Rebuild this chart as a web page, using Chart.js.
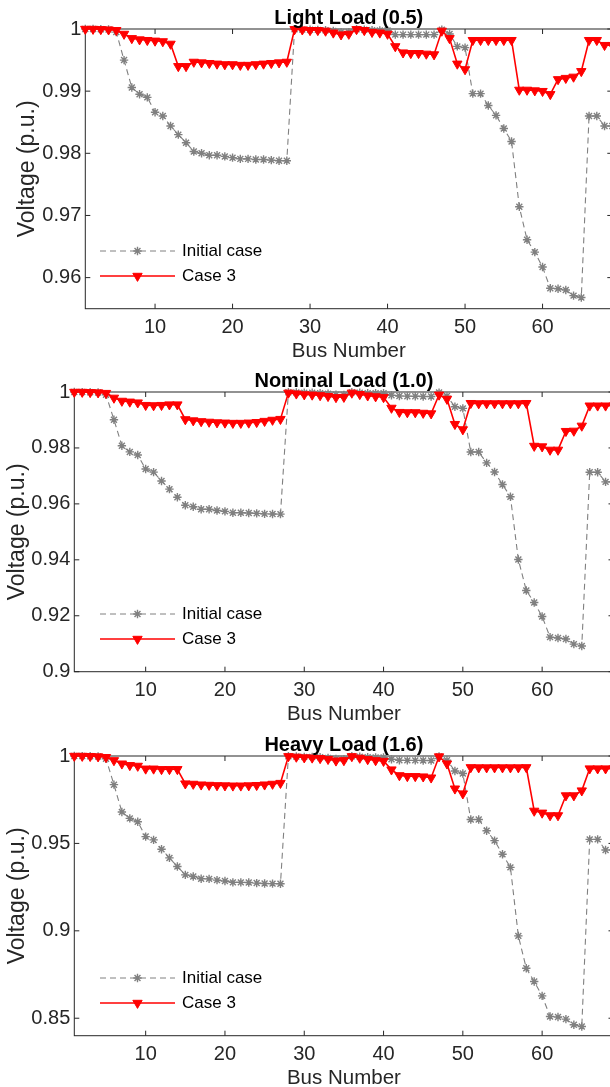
<!DOCTYPE html>
<html>
<head>
<meta charset="utf-8">
<script src="https://cdn.jsdelivr.net/npm/chart.js@4/dist/chart.umd.min.js"></script>
<style>
html, body { margin:0; padding:0; background:#fff; overflow:hidden; width:610px; height:1087px; }
.panel { position:absolute; left:0; width:640px; height:365px; }
</style>
</head>
<body>
<div class="panel" style="top:0px"><canvas id="c1" width="640" height="365"></canvas></div>
<div class="panel" style="top:363px"><canvas id="c2" width="640" height="365"></canvas></div>
<div class="panel" style="top:727px"><canvas id="c3" width="640" height="365"></canvas></div>
<script>
// ---------- data ----------
const busNumbers = [1,2,3,4,5,6,7,8,9,10,11,12,13,14,15,16,17,18,19,20,21,22,23,24,25,26,27,28,29,30,31,32,33,34,35,36,37,38,39,40,41,42,43,44,45,46,47,48,49,50,51,52,53,54,55,56,57,58,59,60,61,62,63,64,65,66,67,68,69];

const lightInitial = [1.0000,1.0000,0.99997,0.99992,0.9995,0.9950,0.9906,0.9895,0.9890,0.9866,0.9860,0.9844,0.9830,0.9817,0.9803,0.9800,0.9797,0.9797,0.9795,0.9793,0.9791,0.9791,0.9790,0.9790,0.9789,0.9788,0.9788,
  0.99997,0.9999,0.99987,0.99986,0.99981,0.99968,0.9995,0.99948,0.99996,0.99988,0.9998,0.99978,0.99978,
  0.9991,0.9991,0.9991,0.9991,0.9991,0.9991,0.9999,0.9992,0.9972,0.9970,
  0.9896,0.9896,0.9877,0.9861,0.9840,0.9819,0.9714,0.9661,0.9641,0.9617,0.9583,0.9582,0.9580,0.9571,0.9568,0.9860,0.9860,0.9844,0.9844];
const lightCase3 = [1.0000,1.0000,0.99995,0.9999,0.9998,0.9992,0.9985,0.9983,0.9982,0.9981,0.9980,0.9976,0.9940,0.9940,0.9947,0.9946,0.9945,0.9944,0.9943,0.9943,0.9942,0.9942,0.9943,0.9944,0.9945,0.9946,0.9947,
  0.99995,0.9999,0.9998,0.9998,0.9997,0.9994,0.9991,0.9992,0.99995,0.9998,0.9995,0.9994,0.9992,
  0.9972,0.9962,0.9961,0.9961,0.9960,0.9959,0.9997,0.9985,0.9944,0.9935,
  0.9982,0.9982,0.9982,0.9982,0.9982,0.9982,0.9902,0.9902,0.9901,0.9900,0.9895,0.9919,0.9921,0.9923,0.9932,0.9982,0.9982,0.9974,0.9974];

const nominalInitial = [1.0000,0.99997,0.99993,0.99984,0.99902,0.99009,0.98079,0.97858,0.97745,0.97245,0.97135,0.96819,0.96526,0.96237,0.95950,0.95897,0.95809,0.95808,0.95762,0.95732,0.95684,0.95683,0.95676,0.95660,0.95643,0.95636,0.95634,
  0.99993,0.99985,0.99973,0.99971,0.99961,0.99935,0.99901,0.99895,0.99992,0.99975,0.99959,0.99954,0.99954,
  0.99884,0.99855,0.99851,0.99850,0.99841,0.99840,0.99979,0.99854,0.99470,0.99415,
  0.97854,0.97853,0.97466,0.97141,0.96693,0.96256,0.94010,0.92904,0.92476,0.91974,0.91236,0.91207,0.91169,0.90985,0.90919,0.97129,0.97129,0.96786,0.96786];
const nominalCase3 = [1.0000,1.0000,0.9999,0.9998,0.9996,0.9979,0.9968,0.9965,0.9962,0.9953,0.9952,0.9953,0.9955,0.9955,0.9902,0.9898,0.9895,0.9893,0.9891,0.9890,0.9889,0.9889,0.9890,0.9892,0.9896,0.9900,0.9903,
  0.9997,0.9994,0.9991,0.9990,0.9988,0.9985,0.9981,0.9982,0.9997,0.9992,0.9987,0.9984,0.9981,
  0.9943,0.9928,0.9927,0.9927,0.9925,0.9923,0.9990,0.9975,0.9885,0.9866,
  0.9960,0.9959,0.9959,0.9959,0.9959,0.9959,0.9959,0.9960,0.9807,0.9805,0.9793,0.9793,0.9860,0.9861,0.9879,0.9951,0.9951,0.9951,0.9951];

const heavyInitial = [1.0000,0.99995,0.9999,0.99975,0.9984,0.9836,0.9680,0.9643,0.9624,0.9539,0.9520,0.9467,0.9417,0.9368,0.9320,0.9311,0.9298,0.9297,0.9290,0.9285,0.9277,0.9277,0.9276,0.9273,0.9271,0.9270,0.9269,
  0.9999,0.9997,0.9995,0.9995,0.9993,0.9989,0.9983,0.9982,0.9999,0.9996,0.9993,0.9992,0.9992,
  0.9981,0.9976,0.9975,0.9975,0.9974,0.9974,0.9997,0.9976,0.9914,0.9900,
  0.9637,0.9637,0.9572,0.9516,0.9438,0.9363,0.8971,0.8786,0.8710,0.8628,0.8510,0.8507,0.8495,0.8463,0.8453,0.9523,0.9523,0.9462,0.9462];
const heavyCase3 = [1.0000,1.0000,0.9999,0.9997,0.9993,0.9975,0.9956,0.9947,0.9943,0.9927,0.9927,0.9924,0.9924,0.9924,0.9842,0.9840,0.9836,0.9834,0.9832,0.9831,0.9830,0.9830,0.9831,0.9833,0.9836,0.9840,0.9845,
  0.9998,0.9995,0.9991,0.9990,0.9987,0.9982,0.9973,0.9975,0.9998,0.9989,0.9981,0.9975,0.9971,
  0.9922,0.9889,0.9884,0.9884,0.9882,0.9876,0.9997,0.9956,0.9813,0.9785,
  0.9935,0.9934,0.9934,0.9934,0.9934,0.9934,0.9934,0.9935,0.9686,0.9675,0.9660,0.9660,0.9774,0.9774,0.9802,0.9928,0.9928,0.9928,0.9928];

const xTickValues = [10,20,30,40,50,60];
const xTickLabels = ['10','20','30','40','50','60'];
const lightYTicks = [0.96,0.97,0.98,0.99,1];
const lightYLabels = ['0.96','0.97','0.98','0.99','1'];
const nominalYTicks = [0.9,0.92,0.94,0.96,0.98,1];
const nominalYLabels = ['0.9','0.92','0.94','0.96','0.98','1'];
const heavyYTicks = [0.85,0.9,0.95,1];
const heavyYLabels = ['0.85','0.9','0.95','1'];

const panelTitles = ['Light Load (0.5)','Nominal Load (1.0)','Heavy Load (1.6)'];
const seriesNames = ['Initial case','Case 3'];
const xAxisTitle = 'Bus Number';
const yAxisTitle = 'Voltage (p.u.)';

// ---------- rendering ----------
Chart.defaults.font.family = '"Liberation Sans", Arial, Helvetica, sans-serif';
const AXIS = '#262626';
const GRAY = '#808080';
const RED = '#ff0000';
const CANVAS_W = 640, CANVAS_H = 365, PLOT_TOP = 29, PLOT_BOTTOM = 308.7;
const TRI_R = 5.4, STAR_R = 4.2;

const decor = {
  id: 'decor',
  beforeDatasetsDraw(chart) {
    const {ctx, chartArea: ca, scales: {x, y}} = chart;
    ctx.save();
    ctx.strokeStyle = AXIS; ctx.lineWidth = 1;
    ctx.beginPath();
    x.ticks.forEach(t => {
      const px = x.getPixelForValue(t.value);
      ctx.moveTo(px, ca.bottom); ctx.lineTo(px, ca.bottom - 5);
      ctx.moveTo(px, ca.top); ctx.lineTo(px, ca.top + 5);
    });
    y.ticks.forEach(t => {
      const py = y.getPixelForValue(t.value);
      ctx.moveTo(ca.left, py); ctx.lineTo(ca.left + 5, py);
      ctx.moveTo(ca.right, py); ctx.lineTo(ca.right - 5, py);
    });
    ctx.stroke();
    ctx.strokeRect(ca.left, ca.top, ca.right - ca.left, ca.bottom - ca.top);
    ctx.restore();
  },
  afterDraw(chart, args, opts) {
    const {ctx, chartArea: ca} = chart;
    ctx.save();
    // title
    ctx.fillStyle = '#000';
    ctx.font = 'bold 20px "Liberation Sans", Arial, sans-serif';
    ctx.textAlign = 'center'; ctx.textBaseline = 'middle';
    ctx.fillText(opts.title, (ca.left + ca.right) / 2, ca.top - 10.5);
    // legend
    const x0 = 100, x1 = 175, xm = 137.5, tx = 182;
    const ys = opts.legendY;
    ctx.font = '17px "Liberation Sans", Arial, sans-serif';
    ctx.textAlign = 'left';
    // initial case
    ctx.strokeStyle = GRAY; ctx.lineWidth = 1; ctx.setLineDash([6,4]);
    ctx.beginPath(); ctx.moveTo(x0, ys[0]); ctx.lineTo(x1, ys[0]); ctx.stroke();
    ctx.setLineDash([]);
    ctx.lineWidth = 1.4; ctx.fillStyle = GRAY;
    Chart.helpers.drawPoint(ctx, {pointStyle:'star', radius:STAR_R, rotation:0, borderWidth:1.4}, xm, ys[0]);
    ctx.fillStyle = '#000';
    ctx.fillText(seriesNames[0], tx, ys[0]);
    // case 3
    ctx.strokeStyle = RED; ctx.lineWidth = 1.5;
    ctx.beginPath(); ctx.moveTo(x0, ys[1]); ctx.lineTo(x1, ys[1]); ctx.stroke();
    ctx.fillStyle = RED; ctx.lineWidth = 1;
    Chart.helpers.drawPoint(ctx, {pointStyle:'triangle', radius:TRI_R, rotation:180, borderWidth:1}, xm, ys[1]);
    ctx.fillStyle = '#000';
    ctx.fillText(seriesNames[1], tx, ys[1]);
    ctx.restore();
  }
};

function toXY(vals) { return busNumbers.map((b, i) => ({x: b, y: vals[i]})); }

function makePanel(id, p) {
  return new Chart(document.getElementById(id), {
    type: 'line',
    data: {
      datasets: [
        { label: seriesNames[1], data: toXY(p.case3), borderColor: RED, backgroundColor: RED,
          borderWidth: 1.6, pointStyle: 'triangle', rotation: 180, pointRadius: TRI_R,
          pointBorderWidth: 1, pointBackgroundColor: RED, pointBorderColor: RED,
          order: 1, clip: false, tension: 0 },
        { label: seriesNames[0], data: toXY(p.initial), borderColor: GRAY, backgroundColor: GRAY,
          borderWidth: 1.1, borderDash: [6,4], pointStyle: 'star', pointRadius: STAR_R,
          pointBorderWidth: 1.4, pointBackgroundColor: GRAY, pointBorderColor: GRAY,
          order: 2, clip: false, tension: 0 }
      ]
    },
    options: {
      responsive: false, animation: false, events: [],
      layout: { padding: { left: 0, right: CANVAS_W - p.right, top: PLOT_TOP, bottom: 0 } },
      scales: {
        x: {
          type: 'linear', min: 1, max: 69,
          afterFit(s) { s.height = CANVAS_H - PLOT_BOTTOM; },
          afterBuildTicks(s) { s.ticks = xTickValues.map(v => ({value: v})); },
          grid: { display: false, drawTicks: false }, border: { display: false },
          ticks: { autoSkip: false, maxRotation: 0, padding: 7, color: AXIS, font: { size: 20 },
                   callback: (v) => xTickLabels[xTickValues.indexOf(v)] },
          title: { display: true, text: xAxisTitle, color: AXIS, font: { size: 20.5 }, padding: { top: 0, bottom: 1.5 } }
        },
        y: {
          type: 'linear', min: p.yMin, max: 1,
          afterFit(s) { s.width = p.left; },
          afterBuildTicks(s) { s.ticks = p.yTicks.map(v => ({value: v})); },
          grid: { display: false, drawTicks: false }, border: { display: false },
          ticks: { autoSkip: false, padding: 4, color: AXIS, font: { size: 20 },
                   callback: (v) => p.yLabels[p.yTicks.indexOf(v)] },
          title: { display: true, text: yAxisTitle, color: AXIS, font: { size: 23 }, padding: { top: p.yTitlePad, bottom: 0 } }
        }
      },
      plugins: {
        legend: { display: false }, tooltip: { enabled: false },
        decor: { title: p.title, legendY: [251, 276] }
      }
    },
    plugins: [decor]
  });
}

makePanel('c1', { initial: lightInitial, case3: lightCase3, yMin: 0.955, yTicks: lightYTicks, yLabels: lightYLabels,
  left: 85.3, right: 612.3, yTitlePad: 14, title: panelTitles[0] });
makePanel('c2', { initial: nominalInitial, case3: nominalCase3, yMin: 0.9, yTicks: nominalYTicks, yLabels: nominalYLabels,
  left: 74.3, right: 613.5, yTitlePad: 4, title: panelTitles[1] });
makePanel('c3', { initial: heavyInitial, case3: heavyCase3, yMin: 0.84, yTicks: heavyYTicks, yLabels: heavyYLabels,
  left: 74.3, right: 613.5, yTitlePad: 4, title: panelTitles[2] });
</script>
</body>
</html>
